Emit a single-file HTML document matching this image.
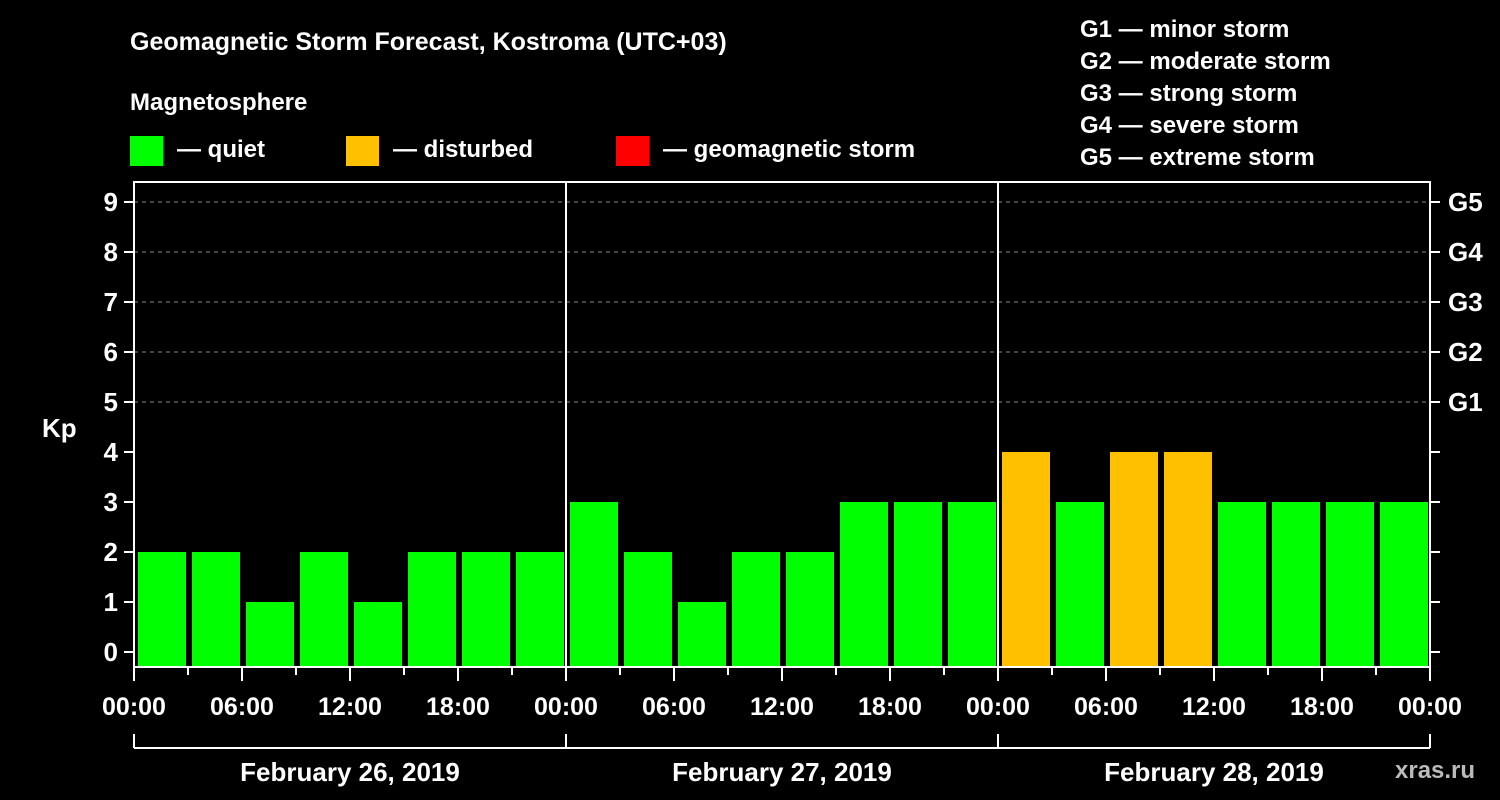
<!DOCTYPE html>
<html><head><meta charset="utf-8"><style>
html,body{margin:0;padding:0;background:#000;width:1500px;height:800px;overflow:hidden}
svg text{font-family:"Liberation Sans",Arial,sans-serif;font-weight:bold;fill:#fff}
</style></head><body>
<svg id="c" width="1500" height="800" xmlns="http://www.w3.org/2000/svg">
<text x="130" y="50" font-size="25">Geomagnetic Storm Forecast, Kostroma (UTC+03)</text>
<text x="130" y="110" font-size="24">Magnetosphere</text>
<g><rect x="130" y="136" width="33" height="30" fill="#00ff00"/><text x="177" y="157" font-size="24">— quiet</text></g>
<g><rect x="346" y="136" width="33" height="30" fill="#ffc000"/><text x="393" y="157" font-size="24">— disturbed</text></g>
<g><rect x="616" y="136" width="33" height="30" fill="#ff0000"/><text x="663" y="157" font-size="24">— geomagnetic storm</text></g>
<g font-size="24">
<text x="1080" y="37">G1 — minor storm</text><text x="1080" y="69">G2 — moderate storm</text><text x="1080" y="101">G3 — strong storm</text><text x="1080" y="133">G4 — severe storm</text><text x="1080" y="165">G5 — extreme storm</text>
</g>
<text x="42" y="437" font-size="26">Kp</text>
<text x="1395" y="778" font-size="24" fill="#bbb" style="fill:#bbb">xras.ru</text>
<g id="plot"></g>
</svg>
<script>
const kpValues=[2,2,1,2,1,2,2,2, 3,2,1,2,2,3,3,3, 4,3,4,4,3,3,3,3];
const dayLabels=["February 26, 2019","February 27, 2019","February 28, 2019"];
const timeLabels=["00:00","06:00","12:00","18:00"];
const yTicks=[0,1,2,3,4,5,6,7,8,9];
const gLabels=["G1","G2","G3","G4","G5"];
const NS="http://www.w3.org/2000/svg";
const L=134,R=1430,T=182,B=667;
const slotW=(R-L)/24;
function xs(i){return L+i*slotW;}
function ys(v){return 652-v*50;}
const p=document.getElementById('plot');
function mk(t,a,parent){const e=document.createElementNS(NS,t);for(const k in a)e.setAttribute(k,a[k]);(parent||p).appendChild(e);return e;}
// grid
for(let v=5;v<=9;v++){const e=mk('line',{x1:L,x2:R,y1:ys(v),y2:ys(v),stroke:'#888','stroke-dasharray':'4,4','stroke-width':1});

}
// bars
kpValues.forEach((v,i)=>{const c=v>=5?'#ff0000':(v>=4?'#ffc000':'#00ff00');
const r=mk('rect',{x:xs(i)+4,y:ys(v),width:slotW-6,height:B-ys(v),fill:c});

});
// frame
const fr=mk('rect',{x:L,y:T,width:R-L,height:B-T,fill:'none',stroke:'#fff','stroke-width':2});


for(let d=1;d<3;d++){const e=mk('line',{x1:xs(d*8),x2:xs(d*8),y1:T,y2:B,stroke:'#fff','stroke-width':2});

}
// y ticks
yTicks.forEach(v=>{mk('line',{x1:L-10,x2:L,y1:ys(v),y2:ys(v),stroke:'#fff','stroke-width':2});
mk('line',{x1:R,x2:R+10,y1:ys(v),y2:ys(v),stroke:'#fff','stroke-width':2});
const t=mk('text',{x:L-16,y:ys(v)+9,'font-size':26,'text-anchor':'end'});t.textContent=v;

});
gLabels.forEach((g,i)=>{const t=mk('text',{x:R+18,y:ys(5+i)+9,'font-size':26});t.textContent=g;

});
// x ticks
for(let i=0;i<=24;i++){const major=i%2===0;mk('line',{x1:xs(i),x2:xs(i),y1:B,y2:B+(major?14:8),stroke:'#fff','stroke-width':2});
if(major){const lab=timeLabels[(i/2)%4];const t=mk('text',{x:xs(i),y:B+48,'font-size':25,'text-anchor':'middle'});t.textContent=lab;

}}
// day bracket
mk('line',{x1:L,x2:R,y1:748,y2:748,stroke:'#fff','stroke-width':2});
for(let d=0;d<=3;d++)mk('line',{x1:xs(d*8),x2:xs(d*8),y1:734,y2:748,stroke:'#fff','stroke-width':2});
dayLabels.forEach((s,d)=>{const t=mk('text',{x:xs(d*8+4),y:781,'font-size':26,'text-anchor':'middle'});t.textContent=s;

});
</script>
</body></html>
